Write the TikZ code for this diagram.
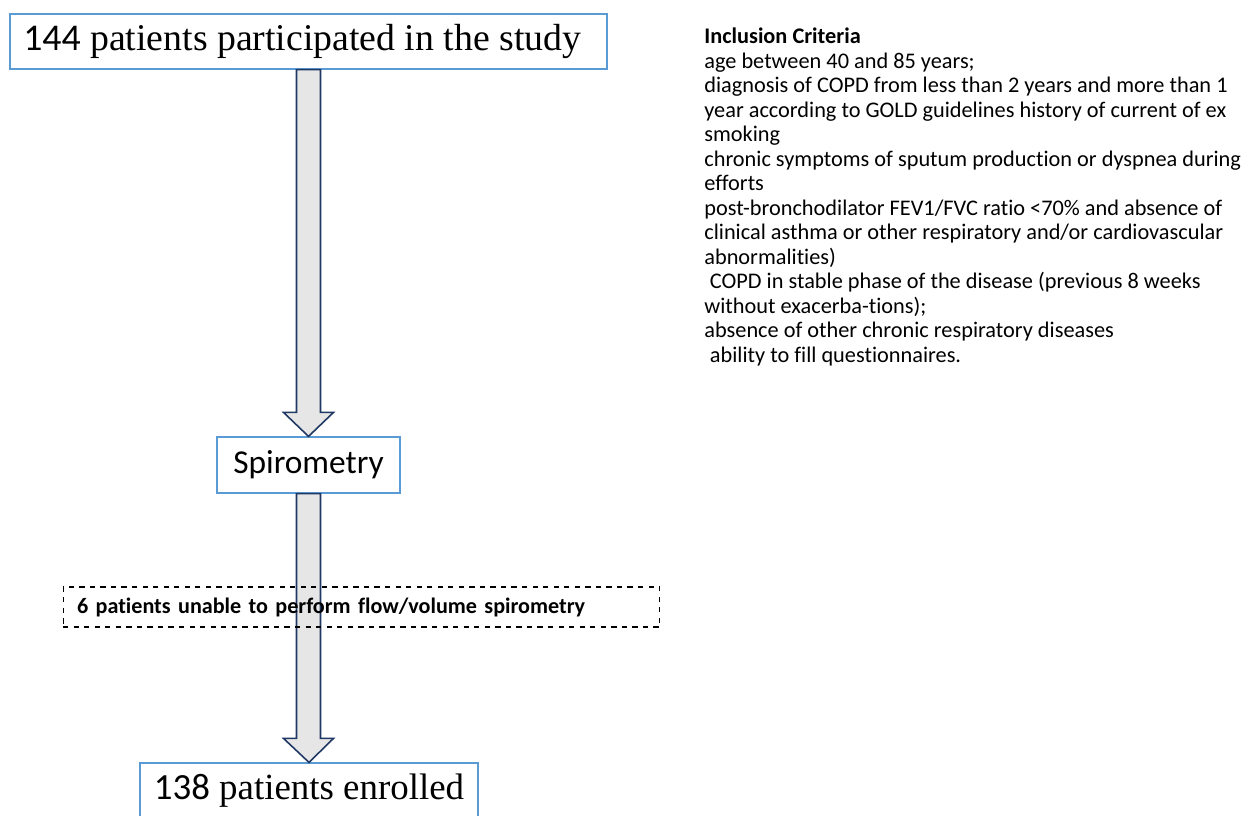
\documentclass[tikz,border=0pt]{standalone}
\usepackage{fontspec}
\setmainfont{Liberation Serif}
\newfontfamily\cali[Ligatures=CommonOff]{Carlito}
\usetikzlibrary{calc}
\definecolor{boxblue}{RGB}{91,155,213}
\definecolor{arrownavy}{RGB}{31,56,100}
\definecolor{arrowgray}{RGB}{231,230,230}
\tikzset{
  stagebox/.style={draw=boxblue, line width=0.7pt, fill=white, inner sep=0pt},
  dropbox/.style={draw, dashed, line width=0.6pt, inner sep=0pt},
  blockarrow/.style={draw=arrownavy, fill=arrowgray, line width=0.9pt, line join=miter}
}
\newcommand{\blockarrow}[2]{%
  \draw[blockarrow] let \p1=(#1.south), \p2=(#2.north) in
    (\x1-0.24cm,\y1) -- (\x1-0.24cm,\y2+0.48cm) -- (\x1-0.5cm,\y2+0.48cm) -- (\x2,\y2)
    -- (\x1+0.5cm,\y2+0.48cm) -- (\x1+0.24cm,\y2+0.48cm) -- (\x1+0.24cm,\y1) -- cycle;}
\begin{document}
\begin{tikzpicture}[x=0.02cm,y=-0.02cm]
		\clip (0,0) rectangle (1253,815);
		\fill[white] (0,0) rectangle (1253,815);

		\node[stagebox, minimum width=11.94cm, minimum height=1.1cm] (study) at (308.5,41.5)
			{\fontsize{21.5}{24}\selectfont{\cali 144} patients participated in the study\hspace*{0.25cm}};
		\node[stagebox, minimum width=3.66cm, minimum height=1.12cm] (spiro) at (308.5,465)
			{\cali\fontsize{19}{22}\selectfont Spirometry};
		\node[stagebox, minimum width=6.76cm, minimum height=1.12cm] (enrolled) at (309,791)
			{\fontsize{21}{24}\selectfont{\cali 138} patients enrolled};

		\blockarrow{study}{spiro}
		\blockarrow{spiro}{enrolled}

		\node[dropbox, minimum width=11.94cm, minimum height=0.8cm, text width=11.38cm, align=left,
			font=\cali\bfseries\fontsize{12.6}{15}\selectfont] (excluded) at (361.5,607)
			{6 patients unable to perform flow/volume spirometry};

		\node[anchor=north west, inner sep=0pt, align=left,
			font=\cali\fontsize{12.7}{13.95}\selectfont] (criteria) at (704,27.5)
			{\textbf{Inclusion Criteria}\\
			age between 40 and 85 years;\\
			diagnosis of COPD from less than 2 years and more than 1\\
			year according to GOLD guidelines history of current of ex\\
			smoking\\
			chronic symptoms of sputum production or dyspnea during\\
			efforts\\
			post-bronchodilator FEV1/FVC ratio <70\% and absence of\\
			clinical asthma or other respiratory and/or cardiovascular\\
			abnormalities)\\
			\hspace*{0.25em}COPD in stable phase of the disease (previous 8 weeks\\
			without exacerba-tions);\\
			absence of other chronic respiratory diseases\\
			\hspace*{0.25em}ability to fill questionnaires.};
	\end{tikzpicture}
\end{document}
